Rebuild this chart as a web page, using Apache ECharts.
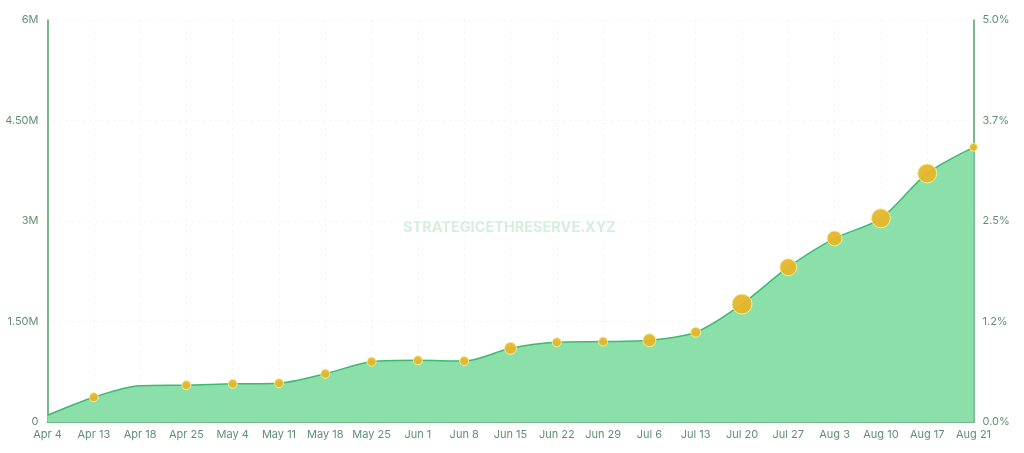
<!DOCTYPE html>
<html>
<head>
<meta charset="utf-8">
<title>Strategic ETH Reserve</title>
<script src="https://cdn.jsdelivr.net/npm/echarts@6/dist/echarts.min.js"></script>
<style>
  html, body { margin: 0; padding: 0; background: #fff; }
  #chart { width: 1024px; height: 453px; }
</style>
</head>
<body>
<div id="chart"></div>
<script>
const dates = ['Apr 4', 'Apr 13', 'Apr 18', 'Apr 25', 'May 4', 'May 11', 'May 18', 'May 25', 'Jun 1', 'Jun 8', 'Jun 15',
  'Jun 22', 'Jun 29', 'Jul 6', 'Jul 13', 'Jul 20', 'Jul 27', 'Aug 3', 'Aug 10', 'Aug 17', 'Aug 21']
// total held, in millions
const holdings = [0.10, 0.37, 0.54, 0.55, 0.57, 0.58, 0.72, 0.90, 0.92, 0.91, 1.10,
  1.19, 1.20, 1.22, 1.34, 1.76, 2.31, 2.74, 3.04, 3.71, 4.10]
// bubble diameters, 0 = no purchase that day
const bubbles = [0, 9, 0, 9, 9, 9, 9, 9, 9, 9, 12,
  9, 9, 13, 10, 20, 17, 15, 19, 19, 8]
const leftLabels = ['0', '1.50M', '3M', '4.50M', '6M']
const rightLabels = ['0.0%', '1.2%', '2.5%', '3.7%', '5.0%']

const green = '#4f9e6d'
const textColor = '#5f8f73'
const gridLine = { show: true, lineStyle: { color: '#f1f3f1', type: [2, 4], width: 1 } }

const chart = echarts.init(document.getElementById('chart'), null, { renderer: 'canvas' })

chart.setOption({
  animation: false,
  backgroundColor: '#fff',
  textStyle: { fontFamily: 'Inter, "Noto Sans", sans-serif' },
  grid: { left: 47.5, right: 50.5, top: 20, bottom: 31 },
  graphic: [{
    type: 'text',
    left: 403,
    top: 220,
    silent: true,
    z: 0,
    style: {
      text: 'STRATEGICETHRESERVE.XYZ',
      fill: '#d5efdf',
      fontFamily: 'Inter, "Noto Sans", sans-serif',
      fontSize: 14.5,
      fontWeight: 700
    }
  }],
  xAxis: {
    type: 'category',
    data: dates,
    boundaryGap: false,
    axisLine: { lineStyle: { color: green, width: 1.5 } },
    axisTick: { show: false },
    axisLabel: { color: textColor, fontSize: 11, margin: 7, interval: 0 },
    splitLine: gridLine
  },
  yAxis: [{
    type: 'value',
    min: 0,
    max: 6,
    interval: 1.5,
    axisLine: { show: true, lineStyle: { color: green, width: 1.5 } },
    axisTick: { show: false },
    axisLabel: {
      color: textColor,
      fontSize: 11,
      margin: 9,
      formatter: (v, i) => leftLabels[i]
    },
    splitLine: gridLine
  }, {
    type: 'value',
    min: 0,
    max: 5,
    interval: 1.25,
    position: 'right',
    axisLine: { show: true, lineStyle: { color: green, width: 1.5 } },
    axisTick: { show: false },
    axisLabel: {
      color: textColor,
      fontSize: 11,
      margin: 9,
      formatter: (v, i) => rightLabels[i]
    },
    splitLine: { show: false }
  }],
  series: [{
    name: 'Holdings',
    type: 'line',
    data: holdings,
    smooth: 0.3,
    showSymbol: false,
    lineStyle: { color: '#3fb873', width: 1.5 },
    areaStyle: { color: '#8be0a9', opacity: 1 },
    z: 2
  }, {
    name: 'Purchases',
    type: 'scatter',
    data: holdings,
    symbolSize: (v, p) => bubbles[p.dataIndex],
    itemStyle: { color: '#e6b62a', opacity: 0.95, borderColor: '#f4ee9e', borderWidth: 1 },
    z: 3
  }]
})
</script>
</body>
</html>
